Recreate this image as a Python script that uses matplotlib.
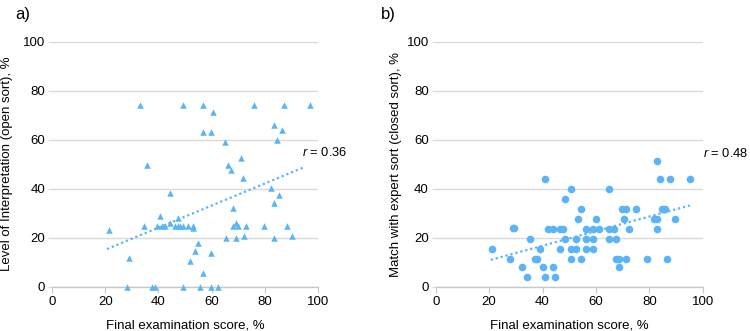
import matplotlib
matplotlib.use("Agg")
import matplotlib.pyplot as plt
import numpy as np

plt.rcParams["font.family"] = ["Liberation Sans", "DejaVu Sans"]
plt.rcParams["mathtext.fontset"] = "custom"
plt.rcParams["mathtext.it"] = "Liberation Sans:italic"
plt.rcParams["mathtext.rm"] = "Liberation Sans"

# panel a) final exam score vs level of interpretation (open sort)
exam_a = [32.9, 49.1, 56.7, 75.9, 87.4, 96.9, 60.5, 56.7, 59.7, 83.6, 86.4, 84.5,
          64.9, 71.2, 35.7, 66.3, 67.2, 72.0, 82.5, 85.5, 83.6, 44.3, 68.2, 40.5,
          47.2, 21.4, 34.7, 39.5, 41.4, 42.4, 44.3, 46.2, 47.2, 48.1, 49.1, 51.0,
          53.0, 53.0, 68.2, 69.1, 70.1, 73.1, 79.7, 88.3, 65.3, 69.1, 72.1, 83.6,
          90.3, 54.8, 53.9, 59.7, 52.0, 29.0, 56.7, 28.1, 37.7, 38.6, 49.1, 55.8,
          59.7, 62.5]
interp_a = [74.1, 74.1, 74.1, 74.1, 74.1, 74.1, 71.2, 63.0, 63.0, 66.0, 63.9, 59.9,
            59.0, 52.7, 49.7, 49.7, 47.6, 44.5, 40.3, 37.3, 34.1, 38.2, 32.0, 29.0,
            27.9, 23.0, 24.9, 24.9, 24.9, 24.9, 25.9, 24.9, 24.9, 24.9, 24.9, 24.9,
            24.9, 23.8, 24.9, 25.9, 24.9, 24.9, 24.9, 24.9, 19.7, 19.7, 20.8, 19.7,
            20.8, 17.7, 14.7, 13.6, 10.6, 11.6, 5.4, 0.0, 0.0, 0.0, 0.0, 0.0,
            0.0, 0.0]
trend_a = [0.45, 6.1]       # slope, intercept
trend_a_range = [20.6, 95.2]
r_a = "0.36"

# panel b) final exam score vs match with expert sort (closed sort)
exam_b = [21.0, 27.7, 29.0, 29.5, 32.3, 34.3, 35.3, 37.2, 38.1, 39.1, 40.0, 41.0,
          41.0, 41.9, 43.9, 43.9, 44.8, 46.7, 46.7, 47.7, 48.6, 48.6, 50.6, 50.6,
          50.6, 52.5, 52.5, 53.3, 54.3, 54.3, 56.2, 56.2, 56.2, 59.1, 59.1, 59.1,
          60.0, 61.0, 64.8, 64.8, 64.8, 66.7, 67.7, 67.7, 68.6, 68.6, 69.6, 70.4,
          71.4, 71.4, 72.5, 75.2, 79.1, 81.9, 82.9, 82.9, 82.9, 83.9, 84.8, 85.8,
          86.7, 87.7, 89.6, 95.2]
match_b = [15.4, 11.2, 23.8, 23.8, 8.2, 4.1, 19.5, 11.2, 11.2, 15.4, 8.2, 4.1,
           44.1, 23.5, 23.5, 8.2, 4.1, 15.4, 23.5, 23.5, 19.5, 35.9, 40.0, 15.4,
           11.2, 19.5, 15.4, 27.6, 31.7, 11.2, 23.5, 19.5, 15.4, 23.5, 19.5, 15.4,
           27.6, 23.5, 40.0, 23.5, 19.5, 23.5, 19.5, 11.2, 11.2, 8.2, 31.7, 27.6,
           31.7, 11.2, 23.5, 31.7, 11.2, 27.6, 27.6, 23.5, 51.3, 44.1, 31.7, 31.7,
           11.2, 44.1, 27.6, 44.1]
trend_b = [0.298, 4.8]
trend_b_range = [20.6, 95.2]
r_b = "0.48"

ticks = [0, 20, 40, 60, 80, 100]
blue = "#5ab4f5"
grid_grey = "#d9d9d9"


def style_axes(ax, ylabel, ylabel_x):
    ax.set_xlim(0, 100)
    ax.set_ylim(0, 100)
    ax.set_xticks(ticks)
    ax.set_yticks(ticks)
    for s in ["top", "right", "left"]:
        ax.spines[s].set_visible(False)
    ax.spines["bottom"].set_color("#c8c8c8")
    ax.spines["bottom"].set_linewidth(1.0)
    ax.grid(axis="y", color=grid_grey, linewidth=1.0)
    ax.set_axisbelow(True)
    ax.tick_params(axis="x", length=4, color="#c8c8c8", labelsize=9.5, pad=3)
    ax.tick_params(axis="y", length=3, color=grid_grey, labelsize=9.5, pad=2)
    ax.set_xlabel("Final examination score, %", fontsize=9.5)
    ax.xaxis.set_label_coords(0.5, -0.135)
    ax.set_ylabel(ylabel, fontsize=9.5)
    ax.yaxis.set_label_coords(ylabel_x, 0.5)


fig = plt.figure(figsize=(7.5, 3.31), dpi=100)
ax1 = fig.add_axes([52.3 / 750, 1 - 286.7 / 331, 265.5 / 750, 245 / 331])
ax2 = fig.add_axes([435.7 / 750, 1 - 286.7 / 331, 267 / 750, 245 / 331])

# a)
ax1.scatter(exam_a, interp_a, marker="^", s=22, color=blue, linewidths=0,
            clip_on=False, zorder=3)
xa = np.array(trend_a_range)
ax1.plot(xa, trend_a[0] * xa + trend_a[1], color=blue, linewidth=1.6,
         linestyle=(0, (1, 1.3)), zorder=2)
ax1.text(94.0, 54.7, "$r$ = " + r_a, fontsize=9.3, va="center", ha="left",
         clip_on=False)
style_axes(ax1, "Level of Interpretation (open sort), %", -0.148)

# b)
ax2.scatter(exam_b, match_b, marker="o", s=30, color=blue, linewidths=0,
            clip_on=False, zorder=3)
xb = np.array(trend_b_range)
ax2.plot(xb, trend_b[0] * xb + trend_b[1], color=blue, linewidth=1.6,
         linestyle=(0, (1, 1.3)), zorder=2)
ax2.text(100.0, 54.4, "$r$ = " + r_b, fontsize=9.3, va="center", ha="left",
         clip_on=False)
style_axes(ax2, "Match with expert sort (closed sort), %", -0.126)

fig.text(15 / 750, 1 - 15 / 331, "a)", fontsize=12, va="center", ha="left")
fig.text(381 / 750, 1 - 15 / 331, "b)", fontsize=12, va="center", ha="left")

fig.savefig("out.png", dpi=100)
